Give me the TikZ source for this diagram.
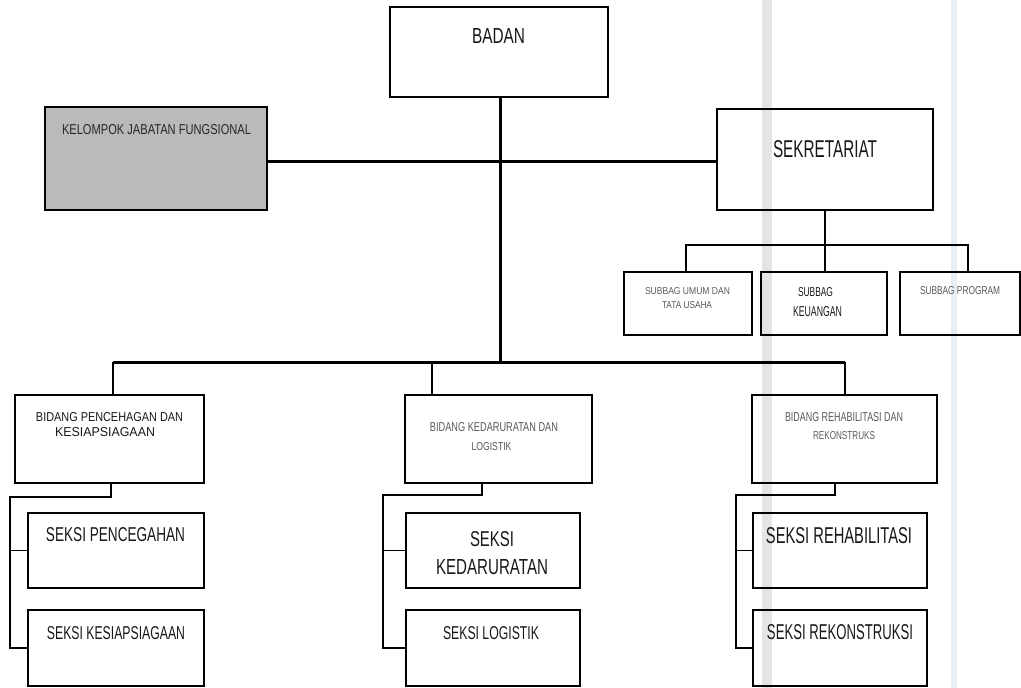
\documentclass[tikz,border=0pt]{standalone}
\usepackage{fontspec}
\setmainfont{Liberation Sans}
\usepackage{graphicx}
\definecolor{bandgray}{RGB}{228,228,230}
\definecolor{bandblue}{RGB}{232,238,246}
\begin{document}
\begin{tikzpicture}[x=1pt,y=-1pt,
  unit/.style={draw=black,line width=1.6pt,rectangle,inner sep=0pt},
  shaded/.style={unit,fill=black!27},
  lbl/.style={inner sep=0pt,text=black!90},
  small/.style={inner sep=0pt,text=black!65},
  trunk/.style={line width=3pt},
  drop/.style={line width=2pt},
  branch/.style={line width=1.3pt},
  stripe/.style={draw=none}]
\useasboundingbox (0,0) rectangle (1021,688);
\fill[white] (0,0) rectangle (1021,688);
% faint vertical bands
\fill[bandgray,stripe] (762,0) rectangle (772,688);
\fill[bandblue,stripe] (951,0) rectangle (957,688);

% boxes
\node[unit,minimum width=218pt,minimum height=90pt] (badan) at (499,52) {};
\node[shaded,minimum width=222pt,minimum height=103pt] (kelompok) at (156,158.5) {};
\node[unit,minimum width=216pt,minimum height=101pt] (sekretariat) at (825,159.5) {};
\node[unit,line width=1.3pt,minimum width=128pt,minimum height=63pt] (sub1) at (688,303.5) {};
\node[unit,line width=1.3pt,minimum width=126pt,minimum height=63pt] (sub2) at (824,303.5) {};
\node[unit,line width=1.3pt,minimum width=120pt,minimum height=63pt] (sub3) at (960,303.5) {};
\node[unit,minimum width=189pt,minimum height=88pt] (bid1) at (109.5,439) {};
\node[unit,minimum width=187pt,minimum height=88pt] (bid2) at (498.5,439) {};
\node[unit,minimum width=185pt,minimum height=88pt] (bid3) at (844.5,439) {};
\node[unit,minimum width=176pt,minimum height=75pt] (s1a) at (116,550.5) {};
\node[unit,minimum width=176pt,minimum height=76pt] (s1b) at (116,648) {};
\node[unit,minimum width=174pt,minimum height=75pt] (s2a) at (493,550.5) {};
\node[unit,minimum width=174pt,minimum height=76pt] (s2b) at (493,648) {};
\node[unit,minimum width=174pt,minimum height=75pt] (s3a) at (840,550.5) {};
\node[unit,minimum width=174pt,minimum height=76pt] (s3b) at (840,648) {};

% junction points
\coordinate (jmid) at (500,161);
\coordinate (busL) at (113,362);
\coordinate (busM) at (432,362);
\coordinate (busR) at (845,362);
\coordinate (sbL) at (686,245);
\coordinate (sbR) at (968,245);
\coordinate (k1) at (111,497);  \coordinate (k1L) at (10,497);
\coordinate (k2) at (482,495);  \coordinate (k2L) at (383,495);
\coordinate (k3) at (835,495);  \coordinate (k3L) at (736,495);

% main connectors
\draw[trunk] (jmid |- badan.south) -- (jmid |- busL);
\draw[trunk] (kelompok.east |- jmid) -- (sekretariat.west |- jmid);
\draw[trunk] (busL) -- (busR);
\draw[drop] (busL) -- (busL |- bid1.north);
\draw[drop] (busM) -- (busM |- bid2.north);
\draw[drop] (busR) -- (busR |- bid3.north);

% secretariat sub-units
\draw[branch] (sekretariat.south) -- (sekretariat.south |- sub2.north);
\draw[branch] (sbL |- sub1.north) -- (sbL) -- (sbR) -- (sbR |- sub3.north);

% sections under each field
\draw[branch] (k1 |- bid1.south) -- (k1) -- (k1L) -- (k1L |- s1b.west) -- (s1b.west);
\draw[branch] (k1L |- s1a.west) -- (s1a.west);
\draw[branch] (k2 |- bid2.south) -- (k2) -- (k2L) -- (k2L |- s2b.west) -- (s2b.west);
\draw[branch] (k2L |- s2a.west) -- (s2a.west);
\draw[branch] (k3 |- bid3.south) -- (k3) -- (k3L) -- (k3L |- s3b.west) -- (s3b.west);
\draw[branch] (k3L |- s3a.west) -- (s3a.west);

% labels
\node[lbl] (tbadan) at (498.5,35.5) {\resizebox{53pt}{15pt}{BADAN}};
\node[lbl,text=black!85] (tkel) at (156.5,130) {\resizebox{189pt}{10pt}{KELOMPOK JABATAN FUNGSIONAL}};
\node[lbl] (tsek) at (825,149) {\resizebox{104pt}{17pt}{SEKRETARIAT}};
\node[small] (tsub1a) at (687.5,291.5) {\resizebox{85pt}{7pt}{SUBBAG UMUM DAN}};
\node[small] (tsub1b) at (687,305.5) {\resizebox{50pt}{7pt}{TATA USAHA}};
\node[lbl] (tsub2a) at (815.5,292.5) {\resizebox{35pt}{9pt}{SUBBAG}};
\node[lbl] (tsub2b) at (817.5,312) {\resizebox{49pt}{10pt}{KEUANGAN}};
\node[small] (tsub3) at (960,291) {\resizebox{80pt}{8pt}{SUBBAG PROGRAM}};
\node[lbl] (tbid1a) at (109.5,417) {\resizebox{147pt}{9pt}{BIDANG PENCEHAGAN DAN}};
\node[lbl] (tbid1b) at (105,432.5) {\resizebox{100pt}{9pt}{KESIAPSIAGAAN}};
\node[small] (tbid2a) at (494,427.5) {\resizebox{128pt}{9pt}{BIDANG KEDARURATAN DAN}};
\node[small] (tbid2b) at (491.5,447) {\resizebox{40pt}{8pt}{LOGISTIK}};
\node[small] (tbid3a) at (844,417.5) {\resizebox{118pt}{9pt}{BIDANG REHABILITASI DAN}};
\node[small] (tbid3b) at (844,436) {\resizebox{62pt}{8pt}{REKONSTRUKS}};
\node[lbl] (ts1a) at (115.5,535) {\resizebox{139pt}{14pt}{SEKSI PENCEGAHAN}};
\node[lbl] (ts1b) at (116,633.5) {\resizebox{138pt}{13pt}{SEKSI KESIAPSIAGAAN}};
\node[lbl] (ts2a1) at (492,539.5) {\resizebox{44pt}{15pt}{SEKSI}};
\node[lbl] (ts2a2) at (492,567.5) {\resizebox{112pt}{15pt}{KEDARURATAN}};
\node[lbl] (ts2b) at (491,633.5) {\resizebox{96pt}{13pt}{SEKSI LOGISTIK}};
\node[lbl] (ts3a) at (839,536) {\resizebox{146pt}{16pt}{SEKSI REHABILITASI}};
\node[lbl] (ts3b) at (840,632.5) {\resizebox{146pt}{15pt}{SEKSI REKONSTRUKSI}};
\end{tikzpicture}
\end{document}
